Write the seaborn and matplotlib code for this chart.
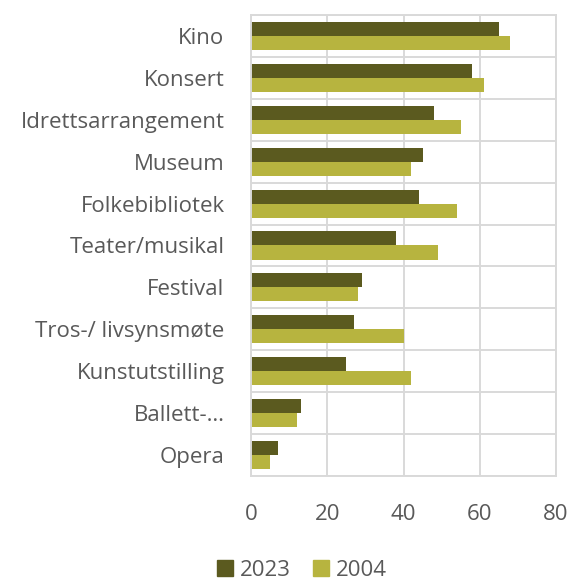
import matplotlib
matplotlib.use("Agg")
import matplotlib.pyplot as plt
import seaborn as sns
import pandas as pd
import numpy as np

categories = ["Kino", "Konsert", "Idrettsarrangement", "Museum", "Folkebibliotek",
              "Teater/musikal", "Festival", "Tros-/ livsynsmøte", "Kunstutstilling",
              "Ballett-…", "Opera"]
values_2023 = [65, 58, 48, 45, 44, 38, 29, 27, 25, 13, 7]
values_2004 = [68, 61, 55, 42, 54, 49, 28, 40, 42, 12, 5]
series = ["2023", "2004"]
xticks = [0, 20, 40, 60, 80]

df = pd.DataFrame({
    "cat": categories * 2,
    "val": values_2023 + values_2004,
    "year": ["2023"] * len(categories) + ["2004"] * len(categories),
})

sns.set_style("white")
plt.rcParams['font.family'] = ['Open Sans', 'DejaVu Sans']

fig = plt.figure(figsize=(5.72, 5.79), dpi=100)
ax = fig.add_axes([251/572, 1 - 476/579, 305/572, 461/579])

palette = {"2023": "#5b5a1f", "2004": "#b7b43f"}
sns.barplot(data=df, y="cat", x="val", hue="year", hue_order=series, order=categories,
            palette=palette, width=0.67, ax=ax, saturation=1, legend=True,
            linewidth=0, edgecolor="none")

ax.set_xlim(0, 80)
ax.set_ylim(len(categories) - 0.5, -0.5)
ax.set_xticks(xticks)
ax.set_xticklabels([str(t) for t in xticks])
ax.set_yticks(range(len(categories)))
ax.set_yticks(np.arange(-0.5, len(categories), 1.0), minor=True)
ax.set_xlabel("")
ax.set_ylabel("")
gc = "#d9d9d9"
ax.grid(True, axis="x", which="major", color=gc, linewidth=1.4)
ax.grid(True, axis="y", which="minor", color=gc, linewidth=1.4)
ax.grid(False, axis="y", which="major")
ax.set_axisbelow(True)
for s in ax.spines.values():
    s.set_color(gc)
    s.set_linewidth(1.4)
    s.set_visible(True)
ax.tick_params(axis="both", which="both", length=0, labelsize=16, colors="#595959")
ax.tick_params(axis="y", pad=19)
ax.tick_params(axis="x", pad=20)

ax.legend_.remove()
handles = [plt.Rectangle((0, 0), 1, 1, color=palette[s]) for s in series]
fig.legend(handles, series, loc="center", bbox_to_anchor=(302/572, 1 - 570/579),
           ncol=2, frameon=False, fontsize=16, handlelength=0.72, handleheight=0.72,
           handletextpad=0.3, columnspacing=1.0, labelcolor="#595959",
           borderaxespad=0, borderpad=0)

fig.savefig("out.png", dpi=100)
